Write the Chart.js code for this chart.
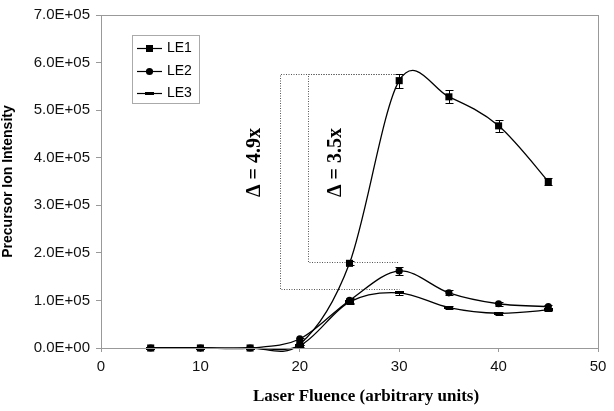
<!DOCTYPE html>
<html>
<head>
<meta charset="utf-8">
<script src="https://cdn.jsdelivr.net/npm/chart.js@4/dist/chart.umd.min.js"></script>
<style>
  html, body { margin: 0; padding: 0; background: #fff; }
  #wrap { width: 614px; height: 411px; position: relative; }
</style>
</head>
<body>
<div id="wrap"><canvas id="c" width="614" height="411"></canvas></div>
<script>
// ---- data ----
const fluence = [5, 10, 15, 20, 25, 30, 35, 40, 45];
const le1 = [0, 0, 0, 8000, 178000, 562000, 528000, 467000, 350000];
const le2 = [0, 0, 0, 19000, 100000, 162000, 116000, 93000, 87000];
const le3 = [0, 0, 0, 5000, 97000, 116000, 85000, 73000, 80000];
const le1Err = [0, 0, 0, 2000, 4000, 15000, 14000, 12000, 8000];
const le2Err = [0, 0, 0, 3000, 6000, 8000, 5000, 4000, 4000];
const le3Err = [0, 0, 0, 2000, 5000, 4000, 3000, 3000, 3000];
const seriesNames = ['LE1', 'LE2', 'LE3'];
const yTicks = [0, 100000, 200000, 300000, 400000, 500000, 600000, 700000];
const xTicks = [0, 10, 20, 30, 40, 50];
// annotation brackets (data coordinates)
const bracketOuter = { x: 18, xEnd: 30, yTop: 575000, yBottom: 124000, label: 'Δ = 4.9x', labelX: 15.5, labelY: 390000 };
const bracketInner = { x: 20.8, xEnd: 30, yTop: 575000, yBottom: 180000, label: 'Δ = 3.5x', labelX: 23.6, labelY: 390000 };

function pts(ys) { return fluence.map((x, i) => ({ x: x, y: ys[i] })); }

// dash marker for LE3
const dash = document.createElement('canvas');
dash.width = 9; dash.height = 3;
(function(){ const g = dash.getContext('2d'); g.fillStyle = '#000'; g.fillRect(0, 0, 9, 3); })();

const styles = [
  { pointStyle: 'rect', pointRadius: 5 },
  { pointStyle: 'circle', pointRadius: 3.6 },
  { pointStyle: dash, pointRadius: 4 }
];
const errs = [le1Err, le2Err, le3Err];

// Excel-like smoothing: uniform Catmull-Rom control points
const smoothPlugin = {
  id: 'smooth',
  beforeDatasetsDraw(chart) {
    chart.data.datasets.forEach((ds, di) => {
      const meta = chart.getDatasetMeta(di);
      const line = meta.dataset;
      if (line && line.updateControlPoints) line.updateControlPoints(chart.chartArea, 'x');
      const p = meta.data;
      const n = p.length;
      for (let i = 0; i < n; i++) {
        const prev = p[Math.max(0, i - 1)], next = p[Math.min(n - 1, i + 1)];
        const mx = (next.x - prev.x) / 6, my = (next.y - prev.y) / 6;
        p[i].cp1x = p[i].x - mx; p[i].cp1y = p[i].y - my;
        p[i].cp2x = p[i].x + mx; p[i].cp2y = p[i].y + my;
      }
    });
  }
};

const errorBarPlugin = {
  id: 'errbars',
  afterDatasetsDraw(chart) {
    const ctx = chart.ctx, xs = chart.scales.x, ys = chart.scales.y;
    ctx.save();
    ctx.strokeStyle = '#000'; ctx.lineWidth = 1;
    chart.data.datasets.forEach((ds, di) => {
      ds.data.forEach((p, i) => {
        const e = errs[di][i];
        if (!e) return;
        const px = Math.round(xs.getPixelForValue(p.x)) + 0.5;
        const t = Math.round(ys.getPixelForValue(p.y + e)) + 0.5;
        const b = Math.round(ys.getPixelForValue(p.y - e)) + 0.5;
        ctx.beginPath();
        ctx.moveTo(px, t); ctx.lineTo(px, b);
        ctx.moveTo(px - 4, t); ctx.lineTo(px + 4, t);
        ctx.moveTo(px - 4, b); ctx.lineTo(px + 4, b);
        ctx.stroke();
      });
    });
    ctx.restore();
  }
};

const decorPlugin = {
  id: 'decor',
  beforeDatasetsDraw(chart) {
    const ctx = chart.ctx, xs = chart.scales.x, ys = chart.scales.y;
    const X = v => Math.round(xs.getPixelForValue(v)) + 0.5;
    const Y = v => Math.round(ys.getPixelForValue(v)) + 0.5;
    ctx.save();
    ctx.strokeStyle = '#555'; ctx.lineWidth = 1; ctx.setLineDash([1, 1.5]);
    [bracketOuter, bracketInner].forEach(b => {
      ctx.beginPath();
      ctx.moveTo(X(b.xEnd), Y(b.yTop));
      ctx.lineTo(X(b.x), Y(b.yTop));
      ctx.lineTo(X(b.x), Y(b.yBottom));
      ctx.lineTo(X(b.xEnd), Y(b.yBottom));
      ctx.stroke();
    });
    ctx.setLineDash([]);
    ctx.fillStyle = '#000';
    ctx.font = 'bold 20px "Liberation Serif", "Times New Roman", serif';
    ctx.textAlign = 'center'; ctx.textBaseline = 'middle';
    [bracketOuter, bracketInner].forEach(b => {
      ctx.save();
      ctx.translate(xs.getPixelForValue(b.labelX), ys.getPixelForValue(b.labelY));
      ctx.rotate(-Math.PI / 2);
      ctx.fillText(b.label, 0, 0);
      ctx.restore();
    });
    ctx.restore();
  },
  afterDraw(chart) {
    const ctx = chart.ctx, a = chart.chartArea;
    ctx.save();
    ctx.strokeStyle = '#999'; ctx.lineWidth = 1;
    ctx.strokeRect(Math.round(a.left) + 0.5, Math.round(a.top) + 0.5, Math.round(a.right - a.left), Math.round(a.bottom - a.top));
    // legend
    const lx = a.left + 31, ly = a.top + 20;
    ctx.strokeStyle = '#aaa';
    ctx.strokeRect(Math.round(lx) + 0.5, Math.round(ly) + 0.5, 67, 68);
    ctx.font = '14px "Liberation Sans", Arial, sans-serif';
    ctx.textAlign = 'left'; ctx.textBaseline = 'middle';
    seriesNames.forEach((n, i) => {
      const y = Math.round(ly + 13 + i * 22.5) + 0.5;
      ctx.strokeStyle = '#000'; ctx.lineWidth = 1.2;
      ctx.beginPath(); ctx.moveTo(lx + 5, y); ctx.lineTo(lx + 30, y); ctx.stroke();
      ctx.fillStyle = '#000';
      const cx = lx + 17.5;
      if (i === 0) ctx.fillRect(cx - 3.5, y - 3.5, 7, 7);
      else if (i === 1) { ctx.beginPath(); ctx.arc(cx, y, 3.6, 0, Math.PI * 2); ctx.fill(); }
      else ctx.fillRect(cx - 4.5, y - 1.5, 9, 3);
      ctx.fillText(n, lx + 35, y);
    });
    // x title
    ctx.font = 'bold 17px "Liberation Serif", "Times New Roman", serif';
    ctx.textAlign = 'center'; ctx.textBaseline = 'middle';
    ctx.fillText('Laser Fluence (arbitrary units)', 366, 397);
    ctx.restore();
  }
};

const datasets = [le1, le2, le3].map((d, i) => ({
  label: seriesNames[i],
  data: pts(d),
  borderColor: '#000',
  backgroundColor: '#000',
  borderWidth: 1.3,
  pointStyle: styles[i].pointStyle,
  pointRadius: styles[i].pointRadius,
  pointBorderWidth: 0,
  pointBackgroundColor: '#000',
  tension: 0.4,
  clip: 6,
  fill: false
}));

new Chart(document.getElementById('c'), {
  type: 'line',
  data: { datasets: datasets },
  options: {
    responsive: false,
    animation: false,
    layout: { padding: { left: 0, right: 16, top: 15, bottom: 0 } },
    plugins: { legend: { display: false }, tooltip: { enabled: false } },
    scales: {
      x: {
        type: 'linear', min: 0, max: 50,
        afterBuildTicks: s => { s.ticks = xTicks.map(v => ({ value: v })); },
        ticks: { color: '#111', font: { family: '"Liberation Sans", Arial, sans-serif', size: 15 }, padding: 6, maxRotation: 0 },
        grid: { drawOnChartArea: false, drawTicks: true, tickLength: 4, color: '#999' },
        border: { color: '#999' },
        afterFit: s => { s.height = 63; }
      },
      y: {
        type: 'linear', min: 0, max: 700000,
        afterBuildTicks: s => { s.ticks = yTicks.map(v => ({ value: v })); },
        ticks: {
          color: '#111', font: { family: '"Liberation Sans", Arial, sans-serif', size: 15 }, padding: 6,
          callback: v => { const e = v === 0 ? 0 : Math.floor(Math.log10(v)); const m = v / Math.pow(10, e); return m.toFixed(1) + 'E+' + String(e).padStart(2, '0'); }
        },
        grid: { drawOnChartArea: false, drawTicks: true, tickLength: 5, color: '#999' },
        border: { color: '#999' },
        title: { display: true, text: 'Precursor Ion Intensity', color: '#000', font: { family: '"Liberation Sans", Arial, sans-serif', size: 14, weight: 'bold' }, padding: { top: 0, bottom: 0 } },
        afterFit: s => { s.width = 101; }
      }
    }
  },
  plugins: [smoothPlugin, decorPlugin, errorBarPlugin]
});
</script>
</body>
</html>
